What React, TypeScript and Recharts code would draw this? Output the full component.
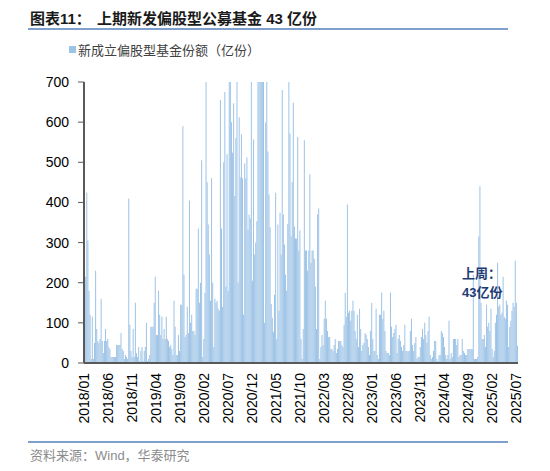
import React from "react";
import { BarChart, Bar, XAxis, YAxis } from "recharts";

// weekly new equity fund shares (100m units), one value per Friday
const weekly2018 = [
  35, 215, 425, 305, 180, 120, 10, 115, 10, 50, 230, 85, 55, 50, 60, 160, 55, 25, 55, 85,
  55, 60, 40, 35, 15, 15, 15, 15, 15, 45, 45, 45, 45, 75, 35, 30, 10, 20, 15, 10,
  410, 95, 30, 15, 85, 15, 150, 25, 15, 40, 5, 30,
];
const weekly2019 = [
  40, 5, 30, 40, 100, 5, 10, 20, 90, 90, 90, 150, 215, 70, 70, 180, 120, 70, 115, 60,
  85, 60, 115, 60, 55, 40, 45, 35, 20, 155, 90, 20, 20, 70, 30, 145, 145, 590, 220, 65,
  70, 140, 75, 405, 100, 120, 80, 80, 70, 185, 185, 335,
];
const weekly2020 = [
  150, 200, 505, 15, 60, 175, 700, 450, 345, 270, 155, 460, 200, 40, 160, 150, 155, 135, 130, 655,
  335, 140, 500, 675, 190, 520, 180, 700, 700, 600, 524, 647, 416, 560, 700, 200, 612, 463, 570, 460,
  120, 497, 460, 512, 332, 370, 360, 700, 205, 557, 270, 300,
];
const weekly2021 = [
  353, 700, 700, 700, 700, 700, 700, 100, 599, 700, 527, 420, 338, 147, 113, 78, 170, 424, 60, 345,
  130, 374, 270, 680, 370, 295, 220, 180, 346, 700, 572, 316, 451, 648, 340, 310, 310, 563, 280, 330,
  60, 10, 85, 555, 280, 280, 230, 280, 470, 250, 280, 280, 260,
];
const weekly2022 = [
  190, 85, 370, 385, 10, 40, 70, 45, 110, 155, 110, 80, 65, 65, 35, 35, 30, 45, 60, 25,
  35, 55, 55, 55, 45, 40, 95, 175, 115, 395, 125, 130, 105, 130, 155, 130, 80, 60, 120, 40,
  135, 85, 30, 45, 50, 75, 70, 60, 40, 20, 80, 150,
];
const weekly2023 = [
  60, 30, 30, 135, 20, 10, 120, 120, 175, 110, 130, 80, 30, 25, 25, 20, 175, 90, 65, 75,
  85, 95, 25, 60, 70, 55, 40, 30, 45, 95, 30, 30, 30, 30, 80, 110, 45, 30, 50, 65,
  10, 15, 15, 40, 65, 85, 60, 100, 70, 50, 80, 115,
];
const weekly2024 = [
  20, 10, 15, 30, 55, 55, 10, 5, 20, 20, 80, 75, 65, 40, 20, 10, 20, 105, 10, 25,
  15, 60, 60, 60, 45, 60, 15, 20, 20, 60, 30, 25, 20, 20, 35, 35, 35, 35, 35, 220,
  10, 10, 10, 15, 315, 440, 150, 60, 60, 70, 40, 145,
];
const weekly2025 = [
  90, 100, 80, 135, 35, 15, 30, 100, 120, 250, 140, 145, 120, 125, 215, 115, 110, 155, 145, 40,
  90, 105, 130, 150, 140, 255, 150, 43,
];

const tickLabels = [
  "2018/01", "2018/06", "2018/11", "2019/04", "2019/09", "2020/02", "2020/07",
  "2020/12", "2021/05", "2021/10", "2022/03", "2022/08", "2023/01", "2023/06",
  "2023/11", "2024/04", "2024/09", "2025/02", "2025/07",
];
const yTicks = [0, 100, 200, 300, 400, 500, 600, 700];

const FIRST_FRIDAY = Date.UTC(2018, 0, 5);
const WEEK = 7 * 24 * 3600 * 1000;
const data = [
  weekly2018, weekly2019, weekly2020, weekly2021,
  weekly2022, weekly2023, weekly2024, weekly2025,
]
  .flat()
  .map((v, i) => ({ t: FIRST_FRIDAY + i * WEEK, v }));

const labelAt = new Map<number, string>();
tickLabels.forEach((s) => {
  const [y, m] = s.split("/").map(Number);
  labelAt.set(Date.UTC(y, m - 1, 1), s);
});
const xTicks = Array.from(labelAt.keys());

const NUM_FONT = "'Liberation Sans', Arial, sans-serif";
const CJK_FONT = "'Liberation Sans', 'Noto Sans CJK SC', sans-serif";
const BAR = "#9DC3E6";
const AXIS = "#595959";
const RULE = "#7f9fcc";

function XTick({ x, y, payload }: any) {
  return (
    <text
      x={x}
      y={y}
      transform={`rotate(-90 ${x} ${y})`}
      textAnchor="end"
      dy="0.36em"
      fontSize={14}
      fontFamily={NUM_FONT}
      fill="#000"
    >
      {labelAt.get(payload.value)}
    </text>
  );
}

export default function App() {
  return (
    <div
      style={{
        position: "absolute",
        left: 0,
        top: 0,
        width: 550,
        height: 471,
        background: "#fff",
        fontFamily: CJK_FONT,
      }}
    >
      <div style={{ position: "absolute", left: 30, top: 11, fontSize: 15, lineHeight: "15px", fontWeight: 700, color: "#1a1a1a", whiteSpace: "nowrap" }}>
        图表11：
      </div>
      <div style={{ position: "absolute", left: 97, top: 11, fontSize: 15, lineHeight: "15px", fontWeight: 700, color: "#1a1a1a", whiteSpace: "nowrap" }}>
        上期新发偏股型公募基金 43 亿份
      </div>
      <div style={{ position: "absolute", left: 28, top: 28, width: 480, height: 1.5, background: RULE }} />

      <div style={{ position: "absolute", left: 69, top: 46, width: 7, height: 7, background: BAR }} />
      <div style={{ position: "absolute", left: 78, top: 44, fontSize: 13, lineHeight: "13px", color: "#404040", whiteSpace: "nowrap" }}>
        新成立偏股型基金份额（亿份）
      </div>

      <BarChart
        width={550}
        height={471}
        data={data}
        margin={{ top: 82, right: 32, bottom: 38, left: 24 }}
        barCategoryGap={0}
        barGap={0}
      >
        <XAxis
          dataKey="t"
          type="number"
          scale="time"
          domain={[Date.UTC(2018, 0, 1), Date.UTC(2025, 6, 14)]}
          ticks={xTicks}
          interval={0}
          height={70}
          tickSize={0}
          tickMargin={10}
          tickLine={false}
          axisLine={{ stroke: AXIS, strokeWidth: 2 }}
          tick={<XTick />}
        />
        <YAxis
          type="number"
          domain={[0, 700]}
          ticks={yTicks}
          allowDataOverflow
          width={60}
          tickSize={6}
          tickMargin={9}
          tickLine={{ stroke: AXIS }}
          axisLine={{ stroke: AXIS, strokeWidth: 2 }}
          tick={{ fontSize: 14, fill: "#000", fontFamily: NUM_FONT }}
        />
        <Bar dataKey="v" fill={BAR} barSize={1.5} isAnimationActive={false} />
      </BarChart>

      <div style={{ position: "absolute", left: 462, top: 267, fontSize: 13, lineHeight: "14px", fontWeight: 700, color: "#1f3b73", whiteSpace: "nowrap" }}>
        上周：
      </div>
      <div style={{ position: "absolute", left: 462, top: 286, fontSize: 13, lineHeight: "14px", fontWeight: 700, color: "#1f3b73", whiteSpace: "nowrap" }}>
        43亿份
      </div>

      <div style={{ position: "absolute", left: 28, top: 441, width: 480, height: 1.5, background: RULE }} />
      <div style={{ position: "absolute", left: 30, top: 449, fontSize: 13, lineHeight: "14px", color: "#8c8c8c", whiteSpace: "nowrap" }}>
        资料来源：Wind，华泰研究
      </div>
    </div>
  );
}
